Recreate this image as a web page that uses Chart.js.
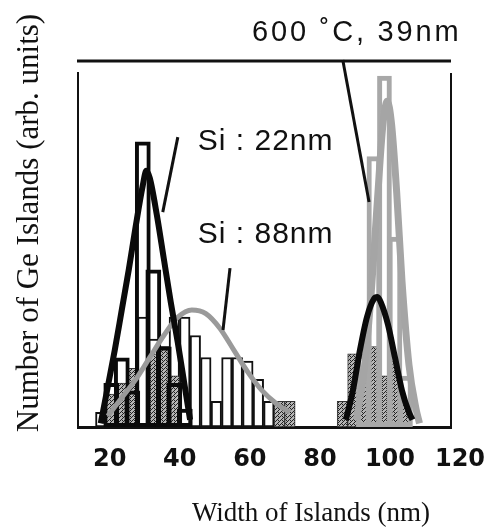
<!DOCTYPE html>
<html>
<head>
<meta charset="utf-8">
<script src="https://cdn.jsdelivr.net/npm/chart.js@4.4.1/dist/chart.umd.min.js"></script>
<style>
  html, body { margin: 0; padding: 0; background: #fff; }
  canvas { display: block; }
</style>
</head>
<body>
<canvas id="chart" width="489" height="528"></canvas>
<script>
// x tick values (nm)
const xTicks = [20, 40, 60, 80, 100, 120];

// Si : 22nm histogram (thick black bars)
const si22Bins = [23, 26, 29, 32, 35, 38, 41, 44];
const si22Counts = [12, 19, 10, 78, 43, 22, 12, 5];

// Si : 88nm histogram (thin black bars)
const si88Bins = [20, 23, 26, 29, 32, 35, 38, 41, 44, 47, 50, 53, 56, 59, 62, 65, 68];
const si88Counts = [4, 5, 8, 14, 30, 24, 22, 30, 30, 25, 19, 7, 19, 19, 18, 13, 7];

// dotted dark bars
const darkBins = [23, 26, 29, 35, 38, 41, 71, 74, 89, 92, 95, 98, 101, 104, 107];
const darkCounts = [9, 12, 16, 20, 22, 14, 7, 7, 7, 20, 12, 22, 14, 18, 6];

// 600 C, 39nm histogram (grey bars)
const c600Bins = [95, 98, 101, 104, 107];
const c600Counts = [20, 74, 96, 52, 14];

// fitted curves
const si22FitX = [20, 22, 24, 26, 28, 30, 32, 33, 34, 36, 38, 40, 42, 44, 45.5];
const si22FitY = [1, 11, 21, 32, 43, 55, 66, 70, 68, 58, 46, 34, 23, 11, 2];

const si88FitX = [22, 26, 30, 34, 38, 42, 46, 50, 54, 58, 62, 66, 70, 74];
const si88FitY = [3, 8, 13, 19, 25, 30, 32, 31, 27, 21, 15, 10, 6.5, 4];

const rightFitX = [90, 92, 94, 96, 98, 99, 100, 102, 104, 106, 108, 109];
const rightFitY = [2, 10, 21, 30, 35, 35.5, 34, 28, 19, 10, 4, 2];

const c600FitX = [93, 95, 97, 99, 100.5, 101.8, 103, 104.5, 106, 108, 110, 111];
const c600FitY = [2, 14, 34, 62, 82, 89, 83, 64, 40, 17, 5, 1];

// labels with leader lines (data coordinates)
const notes = [
  { text: 'Si : 22nm', at: [47.7, 75.7], from: [42, 79.2], to: [37.7, 58.7] },
  { text: 'Si : 88nm', at: [47.7, 50.3], from: [56.9, 43.4], to: [54.9, 26.5] },
  { text: '600 \u02DAC, 39nm', at: [63.2, 105.6], from: [89.1, 100.3], to: [96.6, 61.5] }
];

function pts(xs, ys) {
  return xs.map((x, i) => ({ x: x, y: ys[i] }));
}

function stipple(light) {
  const c = document.createElement('canvas');
  c.width = 4; c.height = 4;
  const g = c.getContext('2d');
  g.fillStyle = light;
  g.fillRect(0, 0, 4, 4);
  g.fillStyle = '#222';
  g.fillRect(0, 0, 1, 1); g.fillRect(2, 2, 1, 1);
  g.fillRect(1, 3, 1, 1); g.fillRect(3, 1, 1, 1);
  g.fillRect(2, 0, 1, 1);
  return g.createPattern(c, 'repeat');
}

const framePlugin = {
  id: 'frame',
  afterDraw(chart) {
    const { ctx, chartArea: a, scales } = chart;
    ctx.save();
    ctx.strokeStyle = '#111';
    ctx.lineWidth = 3;
    ctx.beginPath();
    ctx.moveTo(a.left - 1, a.top); ctx.lineTo(a.right, a.top);
    ctx.stroke();
    ctx.lineWidth = 2;
    ctx.beginPath();
    ctx.moveTo(a.left, a.top + 11); ctx.lineTo(a.left, a.bottom);
    ctx.moveTo(a.right, a.top + 12); ctx.lineTo(a.right, a.bottom);
    ctx.stroke();

    // notes
    ctx.lineWidth = 3;
    ctx.fillStyle = '#111';
    ctx.textBaseline = 'alphabetic';
    ctx.textAlign = 'left';
    notes.forEach((n, i) => {
      ctx.beginPath();
      ctx.moveTo(scales.x.getPixelForValue(n.from[0]), scales.y.getPixelForValue(n.from[1]));
      ctx.lineTo(scales.x.getPixelForValue(n.to[0]), scales.y.getPixelForValue(n.to[1]));
      ctx.stroke();
      ctx.font = (i === 2 ? '29px' : '30px') + ' "Liberation Sans", Arial, sans-serif';
      ctx.letterSpacing = i === 2 ? '2.8px' : '1px';
      ctx.fillText(n.text, scales.x.getPixelForValue(n.at[0]), scales.y.getPixelForValue(n.at[1]));
    });
    ctx.letterSpacing = '0px';

    // axis titles
    ctx.font = '27px "Liberation Serif", "Times New Roman", serif';
    ctx.textAlign = 'center';
    ctx.fillText('Width of Islands (nm)', 311, 521);
    ctx.translate(30, 223);
    ctx.rotate(-Math.PI / 2);
    ctx.font = '31px "Liberation Serif", "Times New Roman", serif';
    ctx.textBaseline = 'middle';
    ctx.fillText('Number of Ge Islands (arb. units)', 0, 0);
    ctx.restore();
  }
};

const dots = stipple('#b5b5b5');
const greyDots = stipple('#c8c8c8');
const barBase = { type: 'bar', grouped: false, categoryPercentage: 1, barPercentage: 1, borderSkipped: false };

new Chart(document.getElementById('chart'), {
  type: 'bar',
  data: {
    datasets: [
      { type: 'line', label: 'Si : 22nm fit', data: pts(si22FitX, si22FitY), borderColor: '#0a0a0a', borderWidth: 6,
        pointRadius: 0, tension: 0.4, cubicInterpolationMode: 'monotone', order: 1 },
      { type: 'line', label: 'right fit', data: pts(rightFitX, rightFitY), borderColor: '#0a0a0a', borderWidth: 6,
        pointRadius: 0, tension: 0.4, cubicInterpolationMode: 'monotone', order: 1 },
      { type: 'line', label: 'Si : 88nm fit', data: pts(si88FitX, si88FitY), borderColor: '#9a9a9a', borderWidth: 5,
        pointRadius: 0, tension: 0.4, cubicInterpolationMode: 'monotone', order: 2 },
      { type: 'line', label: '600C fit', data: pts(c600FitX, c600FitY), borderColor: '#a5a5a5', borderWidth: 7,
        pointRadius: 0, tension: 0.4, cubicInterpolationMode: 'monotone', order: 2 },
      Object.assign({}, barBase, { label: '600C', data: pts(c600Bins, c600Counts), backgroundColor: 'rgba(0,0,0,0)',
        borderColor: '#a8a8a8', borderWidth: 5, barPercentage: 1.4, order: 3 }),
      Object.assign({}, barBase, { label: 'Si : 22nm', data: pts(si22Bins, si22Counts), backgroundColor: 'rgba(0,0,0,0)',
        borderColor: '#0a0a0a', borderWidth: 4, barPercentage: 1.5, order: 4 }),
      Object.assign({}, barBase, { label: 'dark', data: pts(darkBins, darkCounts), backgroundColor: dots,
        borderColor: '#333', borderWidth: 1, order: 5 }),
      Object.assign({}, barBase, { label: 'Si : 88nm', data: pts(si88Bins, si88Counts), backgroundColor: '#fff',
        borderColor: '#111', borderWidth: 2, order: 6 })
    ]
  },
  options: {
    responsive: false,
    animation: false,
    layout: { padding: { left: 78, right: 38, top: 61, bottom: 61 } },
    plugins: { legend: { display: false }, tooltip: { enabled: false } },
    scales: {
      x: {
        type: 'linear',
        min: 13.5,
        max: 120,
        offset: false,
        grid: { display: false },
        border: { display: true, color: '#111', width: 3 },
        afterBuildTicks: s => { s.ticks = xTicks.map(v => ({ value: v })); },
        afterFit: s => { s.height = 40; },
        ticks: {
          includeBounds: false,
          padding: 10,
          labelOffset: 9,
          maxRotation: 0,
          autoSkip: false,
          color: '#111',
          font: { family: 'DejaVu Sans', size: 24, weight: 'bold' }
        }
      },
      y: { display: false, min: 0, max: 100 }
    }
  },
  plugins: [framePlugin]
});
</script>
</body>
</html>
